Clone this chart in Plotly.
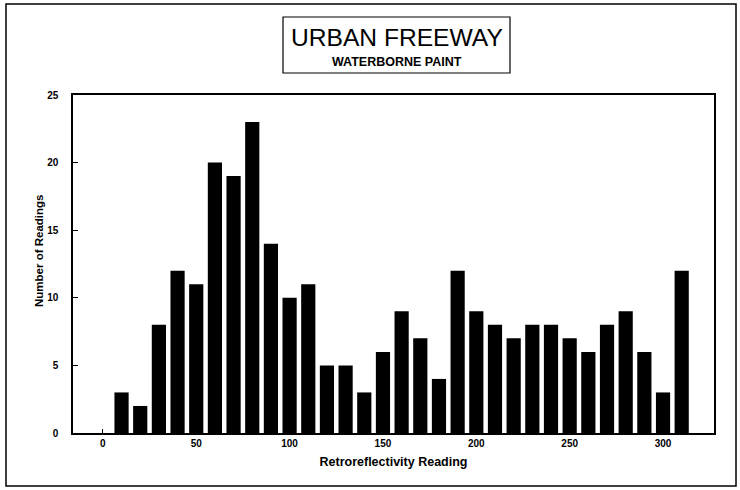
import plotly.graph_objects as go

# Data
bin_centers = [0, 10, 20, 30, 40, 50, 60, 70, 80, 90, 100, 110, 120, 130, 140, 150,
               160, 170, 180, 190, 200, 210, 220, 230, 240, 250, 260, 270, 280, 290, 300, 310]
readings = [0, 3, 2, 8, 12, 11, 20, 19, 23, 14, 10, 11, 5, 5, 3, 6,
            9, 7, 4, 12, 9, 8, 7, 8, 8, 7, 6, 8, 9, 6, 3, 12]
x_ticks = [0, 50, 100, 150, 200, 250, 300]
y_ticks = [0, 5, 10, 15, 20, 25]

W, H = 740, 490
L, R, T, B = 73, 26, 95, 57
pw, ph = W - L - R, H - T - B

def px(x):  # pixel x -> paper x
    return (x - L) / pw

def py(y):  # pixel y -> paper y
    return (H - B - y) / ph

font = "Liberation Sans, Arial, sans-serif"

fig = go.Figure()
fig.add_trace(go.Bar(
    x=bin_centers, y=readings, width=7.6,
    marker=dict(color="black", line=dict(width=0)),
))

fig.update_layout(
    width=W, height=H,
    margin=dict(l=L, r=R, t=T, b=B),
    paper_bgcolor="white", plot_bgcolor="white",
    showlegend=False,
    font=dict(family=font, color="black"),
    xaxis=dict(
        range=[-16, 327.3], tickvals=x_ticks, ticktext=[str(v) for v in x_ticks],
        ticks="inside", ticklen=4, tickcolor="black",
        showline=True, mirror=True, linecolor="black", linewidth=1.5,
        showgrid=False, zeroline=False,
        tickfont=dict(size=10, family=font, weight="bold"),
        title=dict(text="Retroreflectivity Reading", standoff=9,
                   font=dict(size=12.5, family=font, weight="bold")),
    ),
    yaxis=dict(
        range=[0, 25], tickvals=y_ticks, ticktext=[str(v) for v in y_ticks],
        ticks="inside", ticklen=5, tickcolor="black",
        showline=True, mirror=True, linecolor="black", linewidth=1.5,
        showgrid=False, zeroline=False,
        tickfont=dict(size=10, family=font, weight="bold"),
        ticklabelstandoff=11,
    ),
    shapes=[
        dict(type="rect", xref="paper", yref="paper",
             x0=px(6), x1=px(736), y0=py(486), y1=py(4),
             line=dict(color="black", width=1.5)),
        dict(type="rect", xref="paper", yref="paper",
             x0=px(283), x1=px(510), y0=py(73), y1=py(17),
             line=dict(color="black", width=1.2)),
    ],
    annotations=[
        dict(text="URBAN FREEWAY", xref="paper", yref="paper",
             x=px(396.5), y=py(38), showarrow=False,
             xanchor="center", yanchor="middle",
             font=dict(size=24.6, family=font, color="black")),
        dict(text="WATERBORNE PAINT", xref="paper", yref="paper",
             x=px(396.5), y=py(62), showarrow=False,
             xanchor="center", yanchor="middle",
             font=dict(size=12.5, family=font, color="black", weight="bold")),
        dict(text="Number of Readings", xref="paper", yref="paper",
             x=px(39), y=py(251), showarrow=False, textangle=-90,
             xanchor="center", yanchor="middle",
             font=dict(size=11.5, family=font, color="black", weight="bold")),
    ],
)

fig.write_html("out.html", config={"displayModeBar": False},
               post_script="document.body.style.margin='0px';")
